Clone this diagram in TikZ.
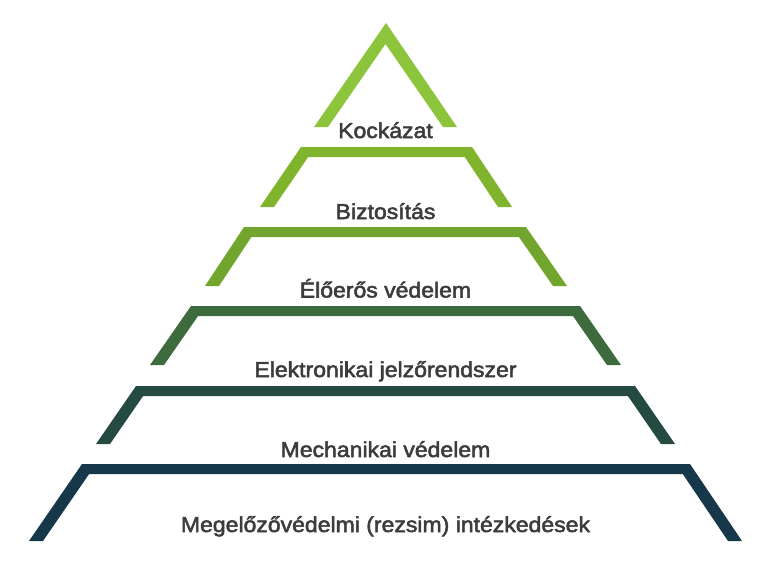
\documentclass[tikz,border=0pt]{standalone}
\usepackage{fontspec}
\newfontfamily\lblfont[FakeBold=2.4,FakeStretch=1.07]{Liberation Sans}
\definecolor{cTop}{HTML}{8CC43C}
\definecolor{cL5}{HTML}{7FB42C}
\definecolor{cL4}{HTML}{72A52E}
\definecolor{cL3}{HTML}{3E6B3E}
\definecolor{cL2}{HTML}{244A42}
\definecolor{cL1}{HTML}{17384A}
\definecolor{txt}{HTML}{3C3C3C}
% #1 colour, #2 BLx, #3 TLx, #4 TRx, #5 BRx, #6 top y, #7 bottom y
\newcommand\pyrlayer[7]{%
  \pgfmathsetmacro\pyrf{(#7-#6-10)/(#7-#6)}%
  \pgfmathsetmacro\pyrtli{#2+14+(#3-#2)*\pyrf}%
  \pgfmathsetmacro\pyrtri{#5-14-(#5-#4)*\pyrf}%
  \fill[#1] (#2,#7) -- (#3,#6) -- (#4,#6) -- (#5,#7) -- (#5-14,#7)
    -- (\pyrtri,#6+10) -- (\pyrtli,#6+10) -- (#2+14,#7) -- cycle;
}
\begin{document}
\begin{tikzpicture}[x=1pt,y=-1pt,
  lbl/.style={font=\lblfont\fontsize{21.5}{24}\selectfont, text=txt, anchor=base, inner sep=0pt}]
\useasboundingbox[fill=white] (0,0) rectangle (768,566);
% top triangle
\fill[cTop] (314,127) -- (386,23) -- (457,127) -- (443,127) -- (385.5,44) -- (328,127) -- cycle;
\pyrlayer{cL5}{260}{301}{472}{512}{147}{207}
\pyrlayer{cL4}{205}{244}{526}{567}{227}{286}
\pyrlayer{cL3}{150}{191}{580}{621}{306}{365}
\pyrlayer{cL2}{96}{136}{635}{675}{386}{444}
\pyrlayer{cL1}{29}{82}{690}{742}{464}{541}
% labels
\node[lbl] (t6) at (385.5,138) {Kockázat};
\node[lbl] (t5) at (385.5,219) {Biztosítás};
\node[lbl] (t4) at (385.5,297.5) {Élőerős védelem};
\node[lbl] (t3) at (385.5,377) {Elektronikai jelzőrendszer};
\node[lbl] (t2) at (385.5,457) {Mechanikai védelem};
\node[lbl] (t1) at (385.5,532) {Megelőzővédelmi (rezsim) intézkedések};
\end{tikzpicture}
\end{document}
